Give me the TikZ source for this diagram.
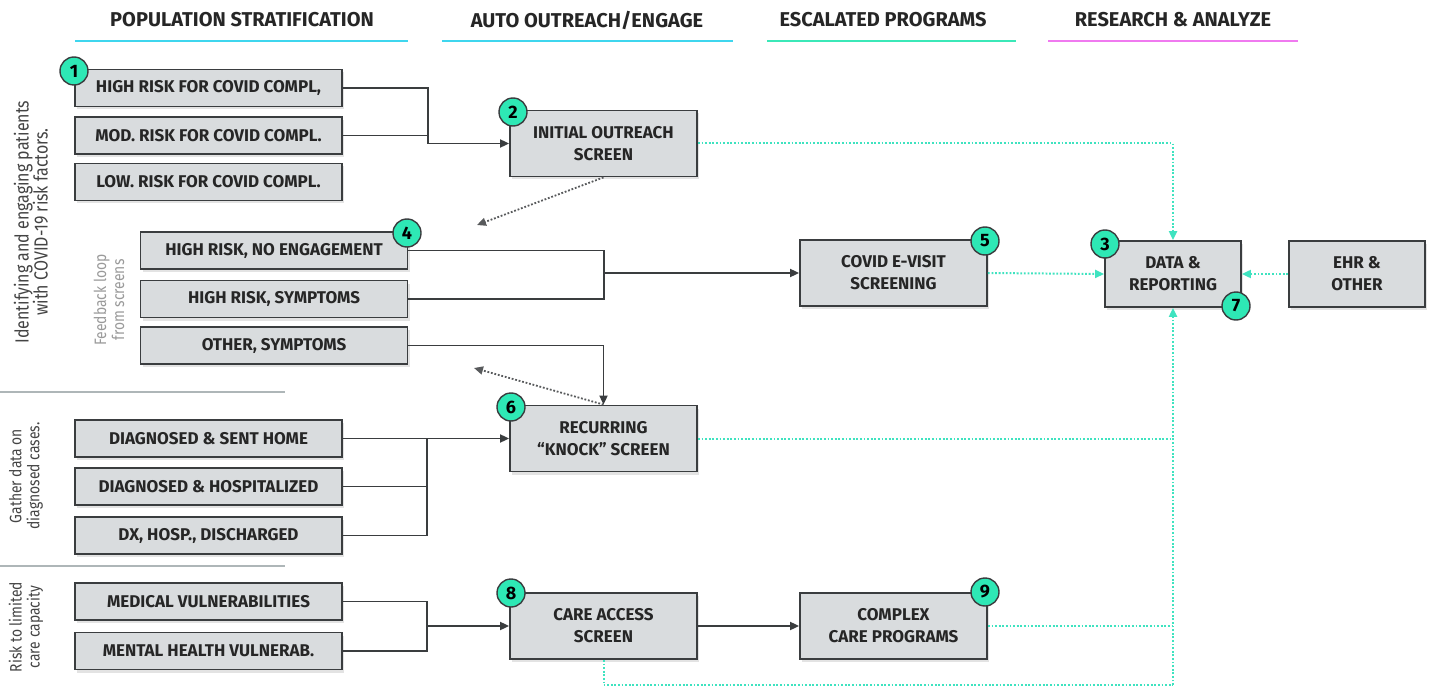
\documentclass[tikz,border=0pt]{standalone}
\usepackage{fontspec}
\setmainfont{Fira Sans}
\newfontfamily\boxfont{Fira Sans}[Ligatures=TeX]
\newfontfamily\sidefont{Fira Sans}[FakeStretch=0.84]
\usetikzlibrary{shadows,arrows.meta}
\definecolor{boxfill}{HTML}{D9DCDE}
\definecolor{boxline}{HTML}{3A3D3F}
\definecolor{badgec}{HTML}{2EE8B5}
\definecolor{cyanline}{HTML}{3FD6EE}
\definecolor{greenline}{HTML}{3BE8B8}
\definecolor{magline}{HTML}{F07AF0}
\definecolor{dotc}{HTML}{3FE3C0}
\definecolor{sidegray}{HTML}{444444}
\definecolor{fbgray}{HTML}{9A9A9A}
\definecolor{sepgray}{HTML}{AEB6B8}
\tikzset{
  box/.style={draw=boxline, fill=boxfill, line width=1.8pt,
    drop shadow={opacity=0.22,shadow xshift=2pt,shadow yshift=-3pt},
    font=\boxfont\bfseries\fontsize{17}{22}\selectfont, align=center,
    inner sep=0pt, text=black!85},
  wide/.style={box, minimum width=267pt, minimum height=37pt},
  screen/.style={box, minimum width=187pt, minimum height=66pt},
  small/.style={box, minimum width=136pt, minimum height=66pt},
  badge/.style={circle, draw=boxline, fill=badgec, line width=1.4pt,
    minimum size=28pt, inner sep=0pt,
    font=\boxfont\bfseries\fontsize{18}{18}\selectfont},
  hdr/.style={font=\boxfont\bfseries\fontsize{20}{22}\selectfont, text=black!85, inner sep=0pt},
  side/.style={font=\sidefont\fontsize{16.5}{18}\selectfont, text=sidegray, align=center, inner sep=0pt, rotate=90},
  flow/.style={draw=boxline, line width=1.8pt},
  arr/.style={flow, -{Triangle[length=9pt,width=8pt]}},
  dotl/.style={draw=dotc, line width=2pt, dash pattern=on 1.8pt off 1.8pt},
  dotarr/.style={dotl, -{Triangle[length=9pt,width=8pt]}},
  grayarr/.style={draw=boxline!85, line width=1.8pt, dash pattern=on 1.8pt off 1.8pt, -{Triangle[length=9pt,width=8pt]}},
}
\begin{document}
\begin{tikzpicture}[x=1pt,y=-1pt]
\useasboundingbox[fill=white] (0,0) rectangle (1432,687);
% headers
\node[hdr] (h1) at (242,20) {POPULATION STRATIFICATION};
\node[hdr] (h2) at (587,20) {AUTO OUTREACH/ENGAGE};
\node[hdr] (h3) at (883,20) {ESCALATED PROGRAMS};
\node[hdr] (h4) at (1173,20) {RESEARCH \& ANALYZE};
\draw[cyanline, line width=2.5pt] (75,41) -- (408,41);
\draw[cyanline, line width=2.5pt] (442,41) -- (733,41);
\draw[greenline, line width=2.5pt] (767,41) -- (1016,41);
\draw[magline, line width=2.5pt] (1048,41) -- (1298,41);
% separators
\draw[sepgray, line width=2pt] (0,392) -- (285,392);
\draw[sepgray, line width=2pt] (0,566) -- (285,566);
% side labels
\node[side, font=\sidefont\fontsize{19}{19}\selectfont] (s1) at (31,222) {Identifying and engaging patients\\with COVID-19 risk factors.};
\node[side, text=fbgray] (s2) at (109,300) {Feedback loop\\from screens};
\node[side] (s3) at (26,476) {Gather data on\\diagnosed cases.};
\node[side] (s4) at (26,627) {Risk to limited\\care capacity};
% boxes
\node[wide] (hr) at (208.5,88) {HIGH RISK FOR COVID COMPL,};
\node[wide] (md) at (208.5,135.5) {MOD. RISK FOR COVID COMPL.};
\node[wide] (lw) at (208.5,182) {LOW. RISK FOR COVID COMPL.};
\node[screen] (os) at (603.5,143.5) {INITIAL OUTREACH\\SCREEN};
\node[wide] (hn) at (274,250.5) {HIGH RISK, NO ENGAGEMENT};
\node[wide] (hs) at (274,299) {HIGH RISK, SYMPTOMS};
\node[wide] (ot) at (274,345.5) {OTHER, SYMPTOMS};
\node[screen] (ev) at (893.5,273) {COVID E-VISIT\\SCREENING};
\node[small] (dr) at (1173,274) {DATA \&\\REPORTING};
\node[small] (eh) at (1357,274) {EHR \&\\OTHER};
\node[screen] (rk) at (603.5,438.5) {RECURRING\\“KNOCK” SCREEN};
\node[wide] (ds) at (208.5,438.5) {DIAGNOSED \& SENT HOME};
\node[wide] (dh) at (208.5,486.5) {DIAGNOSED \& HOSPITALIZED};
\node[wide] (dx) at (208.5,535.5) {DX, HOSP., DISCHARGED};
\node[wide] (mv) at (208.5,601.5) {MEDICAL VULNERABILITIES};
\node[wide] (mh) at (208.5,651) {MENTAL HEALTH VULNERAB.};
\node[screen] (ca) at (603.5,626) {CARE ACCESS\\SCREEN};
\node[screen] (cc) at (893.5,626) {COMPLEX\\CARE PROGRAMS};
% connectors
\coordinate (j1) at (428,143.5);
\draw[arr] (hr.east) -| (j1) -- (os.west);
\draw[flow] (md.east) -- (md.east -| j1);
\coordinate (j2) at (604,273);
\draw[flow] (hn.east) -| (hs.east -| j2) -- (hs.east);
\draw[arr] (j2) -- (ev.west);
\draw[arr] (ot.east) -| (rk.north);
\coordinate (f1) at (477,225);
\coordinate (f2) at (474,368);
\draw[grayarr] (os.south) -- (f1);
\draw[grayarr] (rk.north) -- (f2);
\coordinate (j3) at (427,438.5);
\draw[arr] (ds.east) -- (rk.west);
\draw[flow] (dh.east) -| (j3);
\draw[flow] (dx.east) -| (j3);
\coordinate (j4) at (427,626);
\draw[flow] (mv.east) -| (mh.east -| j4) -- (mh.east);
\draw[arr] (j4) -- (ca.west);
\draw[arr] (ca.east) -- (cc.west);
% data flows
\coordinate (bot) at (1173,685);
\draw[dotarr] (ev.east) -- (dr.west);
\draw[dotarr] (eh.west) -- (dr.east);
\draw[dotarr] (os.east) -| (dr.north);
\draw[dotarr] (bot) -- (dr.south);
\draw[dotl] (rk.east) -- (rk.east -| dr.south);
\draw[dotl] (cc.east) -- (cc.east -| dr.south);
\draw[dotl] (ca.south) |- (bot);
% badges
\node[badge] (b1) at (74,71) {1};
\node[badge] (b2) at (513,112) {2};
\node[badge] (b3) at (1105,244) {3};
\node[badge] (b4) at (407,233) {4};
\node[badge] (b5) at (985,241) {5};
\node[badge] (b6) at (511,407) {6};
\node[badge] (b7) at (1236,306) {7};
\node[badge] (b8) at (511,593) {8};
\node[badge] (b9) at (985,592) {9};
\end{tikzpicture}
\end{document}
